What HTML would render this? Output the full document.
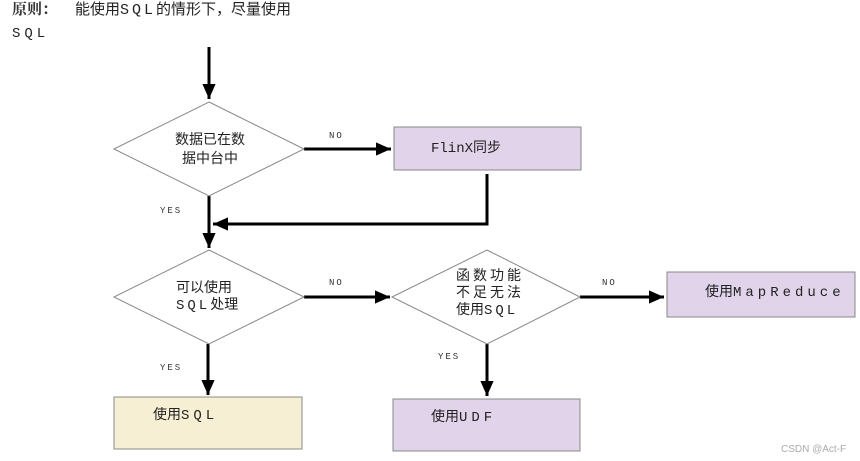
<!DOCTYPE html>
<html><head><meta charset="utf-8"><style>
html,body{margin:0;padding:0;background:#fff;width:860px;height:461px;overflow:hidden}
svg text{font-family:"Liberation Serif","Noto Serif CJK SC","Noto Sans CJK SC",serif}
.cn{font-family:"Liberation Mono","Noto Sans CJK SC",monospace;font-size:14px;fill:#222}
.lb{font-family:"Liberation Mono",monospace;font-size:9px;fill:#333;letter-spacing:2px}
</style></head><body>
<svg width="860" height="461" xmlns="http://www.w3.org/2000/svg">
<defs><marker id="a" markerWidth="6" markerHeight="6" refX="5" refY="3" orient="auto" markerUnits="strokeWidth"><path d="M0,0.8 L5,3 L0,5.2z" fill="#000"/></marker></defs>
<text x="12" y="14" style="font-family:'Liberation Serif','Noto Serif CJK SC',serif;font-size:15px;font-weight:bold" fill="#333">原则：</text>
<text x="75" y="14" class="cn" style="font-size:15px" fill="#222">能使用<tspan letter-spacing="3">SQL</tspan>的情形下，尽量使用</text>
<text x="12" y="37" class="cn" style="font-size:14px" letter-spacing="4">SQL</text>
<g stroke="#000" stroke-width="3" fill="none">
<line x1="209" y1="47" x2="209" y2="99" marker-end="url(#a)"/>
<line x1="304" y1="149" x2="391" y2="149" marker-end="url(#a)"/>
<line x1="209" y1="196" x2="209" y2="248" marker-end="url(#a)"/>
<polyline points="487,174 487,224 213,224" marker-end="url(#a)"/>
<line x1="304" y1="297" x2="390" y2="297" marker-end="url(#a)"/>
<line x1="208" y1="344" x2="208" y2="395" marker-end="url(#a)"/>
<line x1="580" y1="297" x2="664" y2="297" marker-end="url(#a)"/>
<line x1="487" y1="344" x2="487" y2="396" marker-end="url(#a)"/>
</g>
<g stroke="#888" stroke-width="1" fill="#fff">
<polygon points="209,102 304,149 209,196 114,149"/>
<polygon points="209,250 304,297 209,344 114,297"/>
<polygon points="487,250 580,297 487,344 392,297"/>
</g>
<g stroke="#888" stroke-width="1">
<rect x="394" y="127" width="187" height="43" fill="#e0d3ea"/>
<rect x="667" y="272" width="188" height="45" fill="#e0d3ea"/>
<rect x="393" y="399" width="187" height="52" fill="#e0d3ea"/>
<rect x="114" y="397" width="188" height="52" fill="#f7efd4"/>
</g>
<text x="175" y="144" class="cn">数据已在数</text>
<text x="182" y="163" class="cn">据中台中</text>
<text x="431" y="152" class="cn">FlinX同步</text>
<text x="176" y="292" class="cn">可以使用</text>
<text x="176" y="309" class="cn"><tspan letter-spacing="3">SQL</tspan>处理</text>
<text x="456" y="280" class="cn" letter-spacing="3">函数功能</text>
<text x="456" y="297" class="cn" letter-spacing="3">不足无法</text>
<text x="456" y="314" class="cn">使用<tspan letter-spacing="3">SQL</tspan></text>
<text x="705" y="296" class="cn">使用<tspan letter-spacing="4">MapReduce</tspan></text>
<text x="431" y="421" class="cn">使用<tspan letter-spacing="4">UDF</tspan></text>
<text x="153" y="419" class="cn">使用<tspan letter-spacing="4">SQL</tspan></text>
<text x="329" y="138" class="lb">NO</text>
<text x="329" y="285" class="lb">NO</text>
<text x="602" y="285" class="lb">NO</text>
<text x="160" y="213" class="lb">YES</text>
<text x="160" y="370" class="lb">YES</text>
<text x="438" y="359" class="lb">YES</text>
<text x="781" y="452" style="font-family:'Liberation Sans',sans-serif;font-size:10px" fill="#aaa">CSDN @Act-F</text>
</svg>
</body></html>
